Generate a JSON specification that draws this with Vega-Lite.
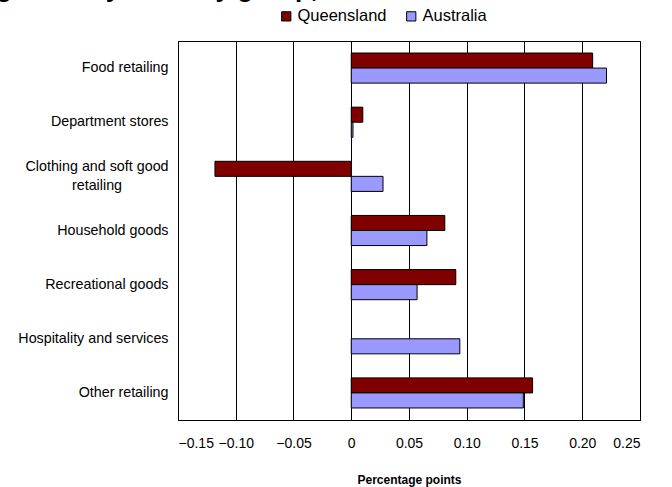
{
  "$schema": "https://vega.github.io/schema/vega-lite/v6.json",
  "autosize": {"type": "none"},
  "padding": {"left": 178, "top": 41, "right": 31, "bottom": 67},
  "width": 462,
  "height": 379,
  "background": "white",
  "title": {
    "text": "Contribution to growth by industry group, 2007–08",
    "font": "Liberation Sans",
    "fontSize": 26,
    "fontWeight": "bold",
    "color": "black",
    "anchor": "start",
    "frame": "group",
    "dx": -377,
    "dy": -6,
    "offset": 0
  },
  "data": {
    "values": [
      {"industry": "Food retailing", "series": "Queensland", "value": 0.209},
      {"industry": "Food retailing", "series": "Australia", "value": 0.221},
      {"industry": "Department stores", "series": "Queensland", "value": 0.010},
      {"industry": "Department stores", "series": "Australia", "value": 0.0015},
      {"industry": "Clothing and soft good retailing", "series": "Queensland", "value": -0.118},
      {"industry": "Clothing and soft good retailing", "series": "Australia", "value": 0.0275},
      {"industry": "Household goods", "series": "Queensland", "value": 0.081},
      {"industry": "Household goods", "series": "Australia", "value": 0.0655},
      {"industry": "Recreational goods", "series": "Queensland", "value": 0.0905},
      {"industry": "Recreational goods", "series": "Australia", "value": 0.057},
      {"industry": "Hospitality and services", "series": "Queensland", "value": null},
      {"industry": "Hospitality and services", "series": "Australia", "value": 0.094},
      {"industry": "Other retailing", "series": "Queensland", "value": 0.157},
      {"industry": "Other retailing", "series": "Australia", "value": 0.149}
    ]
  },
  "mark": {"type": "bar", "stroke": "black", "strokeWidth": 1},
  "encoding": {
    "y": {
      "field": "industry",
      "type": "nominal",
      "sort": null,
      "scale": {"paddingInner": 0.444, "paddingOuter": 0.222},
      "axis": {
        "title": null,
        "ticks": false,
        "domain": true,
        "domainColor": "black",
        "labelFont": "Liberation Sans",
        "labelFontSize": 14.3,
        "labelColor": "black",
        "labelLimit": 200,
        "labelExpr": "datum.value == 'Clothing and soft good retailing' ? ['Clothing and soft good', 'retailing'] : datum.value",
        "labelLineHeight": 19,
        "labelAlign": {"condition": {"test": "datum.value == 'Clothing and soft good retailing'", "value": "center"}, "value": "right"},
        "labelPadding": {"condition": {"test": "datum.value == 'Clothing and soft good retailing'", "value": 81.5}, "value": 10},
        "labelOffset": {"condition": {"test": "datum.value == 'Clothing and soft good retailing'", "value": -9.5}, "value": 0}
      }
    },
    "yOffset": {
      "field": "series",
      "type": "nominal",
      "sort": ["Queensland", "Australia"]
    },
    "x": {
      "field": "value",
      "type": "quantitative",
      "scale": {"domain": [-0.15, 0.25], "nice": false, "zero": false},
      "axis": {
        "title": "Percentage points",
        "titleFont": "Liberation Sans",
        "titleFontSize": 12,
        "titleFontWeight": "bold",
        "titleColor": "black",
        "titlePadding": 24,
        "values": [-0.15, -0.1, -0.05, 0, 0.05, 0.1, 0.15, 0.2, 0.25],
        "labelExpr": "datum.value == 0 ? '0' : replace(format(datum.value, '.2f'), '-', '–')",
        "labelFont": "Liberation Sans",
        "labelFontSize": 14,
        "labelColor": "black",
        "labelPadding": 16,
        "ticks": false,
        "domain": true,
        "domainColor": "black",
        "grid": true,
        "gridColor": "black",
        "gridOpacity": 1,
        "gridWidth": 1
      }
    },
    "color": {
      "field": "series",
      "type": "nominal",
      "sort": ["Queensland", "Australia"],
      "scale": {"domain": ["Queensland", "Australia"], "range": ["#800000", "#9999ff"]},
      "legend": {
        "title": null,
        "orient": "none",
        "direction": "horizontal",
        "legendX": 100,
        "legendY": -33,
        "symbolType": "square",
        "symbolSize": 85,
        "symbolStrokeColor": "black",
        "symbolStrokeWidth": 1,
        "symbolOpacity": 1,
        "labelFont": "Liberation Sans",
        "labelFontSize": 16.5,
        "labelColor": "black",
        "labelOffset": 3,
        "columnPadding": 16
      }
    }
  },
  "config": {
    "view": {"stroke": "black", "strokeWidth": 1}
  }
}
